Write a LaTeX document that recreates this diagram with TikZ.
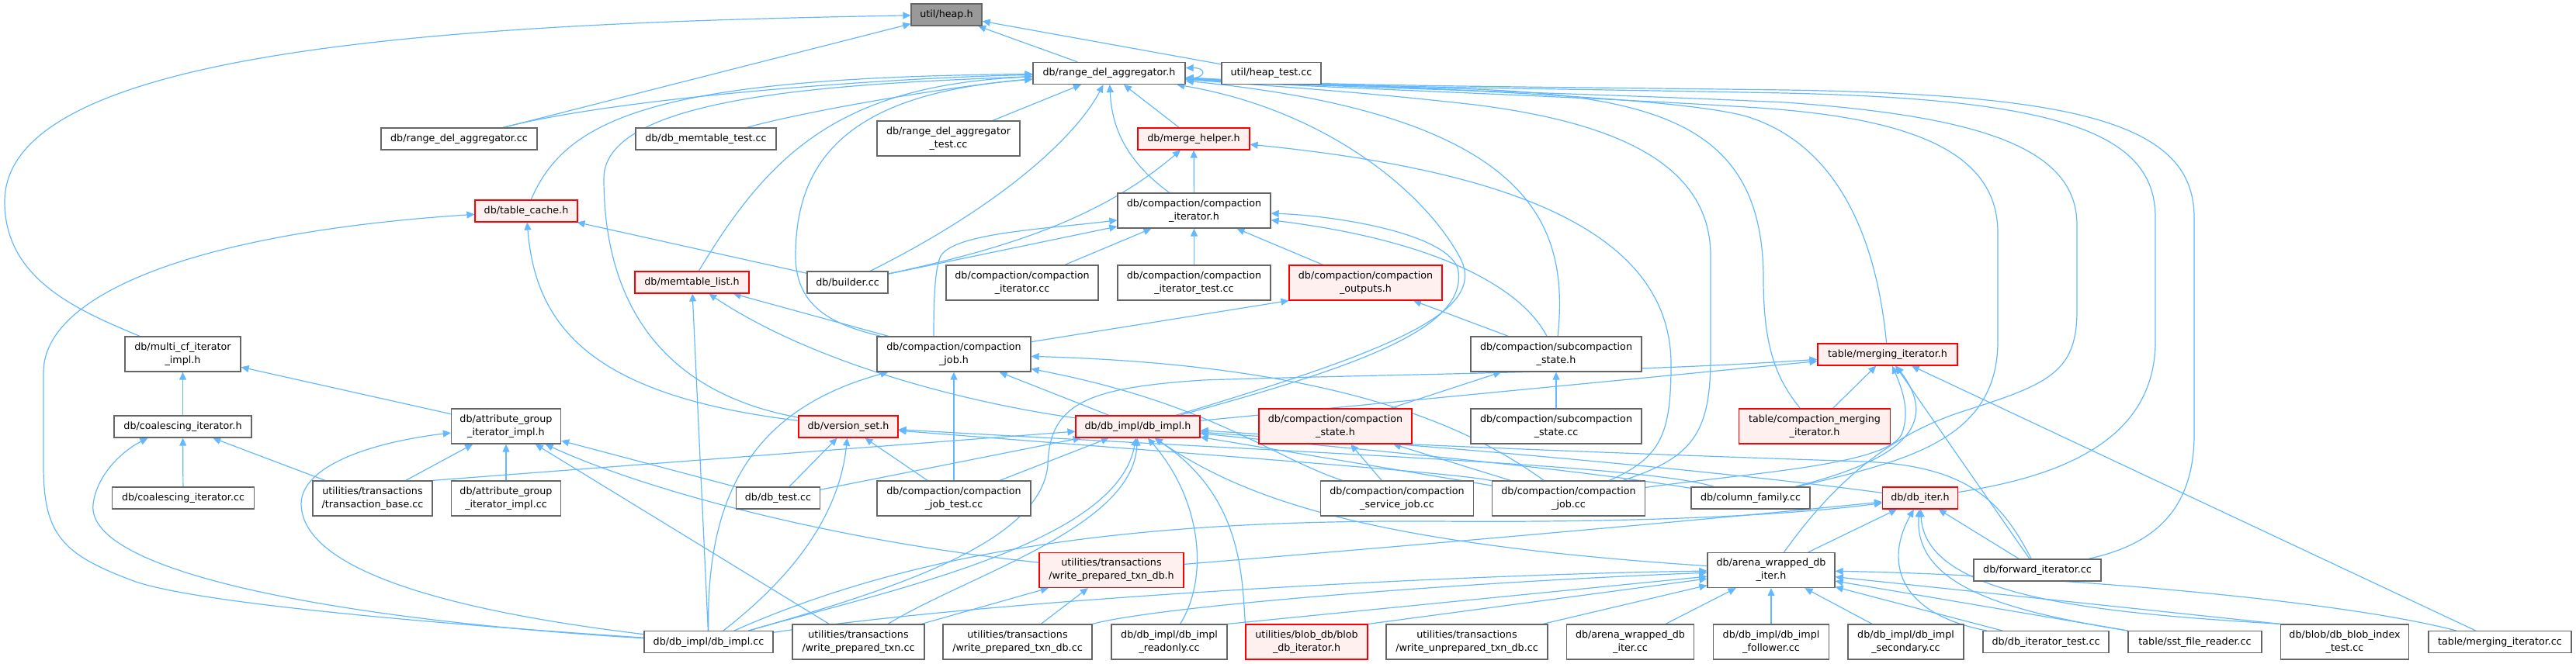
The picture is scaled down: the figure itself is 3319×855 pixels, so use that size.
\documentclass[tikz,border=0pt]{standalone}
\usepackage{fontspec}
\setmainfont{DejaVu Sans}
\usepackage{xcolor}
\usetikzlibrary{arrows.meta}

\definecolor{edgeblue}{HTML}{63B8FF}
\definecolor{boxgray}{HTML}{666666}
\definecolor{rootgray}{HTML}{999999}
\definecolor{hdrred}{HTML}{FF0000}
\definecolor{hdrfill}{HTML}{FFF0F0}

\pgfdeclarelayer{edges}
\pgfsetlayers{edges,main}

\begin{document}
\begin{tikzpicture}[
    x=1pt,
    y=-1pt,
    >={Triangle[length=10pt,width=9pt]},
    file/.style={draw=boxgray, fill=white, line width=1.3pt, inner sep=0pt,
        minimum height=28pt, align=center,
        font=\fontsize{12.7pt}{16.7pt}\selectfont},
    two/.style={minimum height=45pt},
    hdr/.style={file, draw=hdrred, fill=hdrfill, line width=1.1pt},
    incl/.style={->, draw=edgeblue, line width=1.2pt}
]

\useasboundingbox (0,0) rectangle (3319,855);

% ---------------------------------------------------------
% Files, row by row
% ---------------------------------------------------------

\node[file, fill=rootgray, minimum width=91pt] (heap) at (1219.5,19) {util/heap.h};

\node[file, minimum width=196pt] (rdah) at (1429,94.5) {db/range\_del\_aggregator.h};
\node[file, minimum width=128pt] (heaptest) at (1638,94.5) {util/heap\_test.cc};

\node[file, minimum width=201pt] (rdacc) at (591.5,179) {db/range\_del\_aggregator.cc};
\node[file, minimum width=181pt] (memtest) at (909.5,179) {db/db\_memtable\_test.cc};
\node[file, two, minimum width=184pt] (rdatest) at (1222,178.5) {db/range\_del\_aggregator\\\_test.cc};
\node[hdr, minimum width=144pt] (merge) at (1538,179) {db/merge\_helper.h};

\node[hdr, minimum width=132pt] (tcache) at (678,272) {db/table\_cache.h};
\node[file, two, minimum width=197pt] (cith) at (1538.5,271.5) {db/compaction/compaction\\\_iterator.h};

\node[hdr, minimum width=147pt] (memlist) at (891.5,364) {db/memtable\_list.h};
\node[file, minimum width=104pt] (builder) at (1092,364) {db/builder.cc};
\node[file, two, minimum width=196pt] (citcc) at (1317,364.5) {db/compaction/compaction\\\_iterator.cc};
\node[file, two, minimum width=197pt] (cittest) at (1538.5,364.5) {db/compaction/compaction\\\_iterator\_test.cc};
\node[hdr, two, minimum width=197pt] (outh) at (1759.5,364.5) {db/compaction/compaction\\\_outputs.h};

\node[file, two, minimum width=149pt] (multicf) at (235.5,456.5) {db/multi\_cf\_iterator\\\_impl.h};
\node[file, two, minimum width=198pt] (jobh) at (1229,456.5) {db/compaction/compaction\\\_job.h};
\node[file, two, minimum width=220pt] (subh) at (2005,456.5) {db/compaction/subcompaction\\\_state.h};
\node[hdr, minimum width=180pt] (mergeith) at (2432,457) {table/merging\_iterator.h};

\node[file, minimum width=177pt] (coalh) at (235.5,550) {db/coalescing\_iterator.h};
\node[file, two, minimum width=141pt] (attrh) at (652,549.5) {db/attribute\_group\\\_iterator\_impl.h};
\node[hdr, minimum width=128pt] (vset) at (1093,550) {db/version\_set.h};
\node[hdr, minimum width=160pt] (dbimplh) at (1466,550) {db/db\_impl/db\_impl.h};
\node[hdr, two, minimum width=197pt] (stateh) at (1720.5,549.5) {db/compaction/compaction\\\_state.h};
\node[file, two, minimum width=220pt] (subcc) at (2005,549.5) {db/compaction/subcompaction\\\_state.cc};
\node[hdr, two, minimum width=195pt] (cmergeh) at (2338,549.5) {table/compaction\_merging\\\_iterator.h};

\node[file, minimum width=183pt] (coalcc) at (236,642) {db/coalescing\_iterator.cc};
\node[file, two, minimum width=154pt] (tbase) at (480,642.5) {utilities/transactions\\/transaction\_base.cc};
\node[file, two, minimum width=141pt] (attrcc) at (652,642.5) {db/attribute\_group\\\_iterator\_impl.cc};
\node[file, minimum width=108pt] (dbtest) at (1002.5,642) {db/db\_test.cc};
\node[file, two, minimum width=198pt] (jobtest) at (1229,642.5) {db/compaction/compaction\\\_job\_test.cc};
\node[file, two, minimum width=197pt] (svcjob) at (1800,642.5) {db/compaction/compaction\\\_service\_job.cc};
\node[file, two, minimum width=197pt] (jobcc) at (2021,642.5) {db/compaction/compaction\\\_job.cc};
\node[file, minimum width=153pt] (cfcc) at (2255.5,642) {db/column\_family.cc};
\node[hdr, minimum width=97pt] (iterh) at (2474,642) {db/db\_iter.h};

\node[hdr, two, minimum width=186pt] (wpdbh) at (1432,735) {utilities/transactions\\/write\_prepared\_txn\_db.h};
\node[file, two, minimum width=164pt] (awih) at (2282,735) {db/arena\_wrapped\_db\\\_iter.h};
\node[file, minimum width=164pt] (fwdcc) at (2625,735) {db/forward\_iterator.cc};

\node[file, minimum width=166pt] (dbimplcc) at (913,827.7) {db/db\_impl/db\_impl.cc};
\node[file, two, minimum width=170pt] (wptcc) at (1106,827.5) {utilities/transactions\\/write\_prepared\_txn.cc};
\node[file, two, minimum width=192pt] (wpdbcc) at (1311,827.5) {utilities/transactions\\/write\_prepared\_txn\_db.cc};
\node[file, two, minimum width=149pt] (rocc) at (1506.5,827.5) {db/db\_impl/db\_impl\\\_readonly.cc};
\node[hdr, two, minimum width=157pt] (blobh) at (1683.5,827.5) {utilities/blob\_db/blob\\\_db\_iterator.h};
\node[file, two, minimum width=208pt] (wudbcc) at (1890,827.5) {utilities/transactions\\/write\_unprepared\_txn\_db.cc};
\node[file, two, minimum width=164pt] (awicc) at (2100.5,827.5) {db/arena\_wrapped\_db\\\_iter.cc};
\node[file, two, minimum width=149pt] (follcc) at (2282,827.5) {db/db\_impl/db\_impl\\\_follower.cc};
\node[file, two, minimum width=149pt] (seccc) at (2455.5,827.5) {db/db\_impl/db\_impl\\\_secondary.cc};
\node[file, minimum width=162pt] (itertest) at (2636,827.7) {db/db\_iterator\_test.cc};
\node[file, minimum width=172pt] (sstcc) at (2828,827.7) {table/sst\_file\_reader.cc};
\node[file, two, minimum width=165pt] (blobtest) at (3021,827.5) {db/blob/db\_blob\_index\\\_test.cc};
\node[file, minimum width=184pt] (mergeitcc) at (3221,827.7) {table/merging\_iterator.cc};

\begin{pgfonlayer}{edges}

% ---------------------------------------------------------
% util/heap.h
% ---------------------------------------------------------

\draw[incl] (multicf) .. controls (100,400) and (6,360) .. (6,260)
    .. controls (6,60) and (600,30) .. (heap);
\draw[incl] (rdacc) -- (heap);
\draw[incl] (rdah) -- (heap);
\draw[incl] (heaptest) -- (heap);

% ---------------------------------------------------------
% db/range_del_aggregator.h
% ---------------------------------------------------------

\draw[incl] ([yshift=-7pt]rdah.east) .. controls +(28pt,0pt) and +(28pt,0pt) .. ([yshift=7pt]rdah.east);
\draw[incl] (rdacc) .. controls (800,125) and (1150,100) .. (rdah);
\draw[incl] (memtest) .. controls (1050,140) and (1250,108) .. (rdah);
\draw[incl] (rdatest) -- (rdah);
\draw[incl] (merge) -- (rdah);
\draw[incl] (tcache) .. controls (730,150) and (850,100) .. (rdah);
\draw[incl] (memlist) .. controls (990,200) and (1080,110) .. (rdah);
\draw[incl] (builder) .. controls (1300,260) and (1390,170) .. (rdah);
\draw[incl] (cith) .. controls (1440,200) and (1432,150) .. (rdah);
\draw[incl] (jobh) .. controls (1080,420) and (1025,400) .. (1025,330)
    .. controls (1025,200) and (1100,120) .. (rdah);
\draw[incl] (vset) .. controls (820,500) and (778,350) .. (778,230)
    .. controls (778,120) and (1100,108) .. (rdah);
\draw[incl] (dbimplh) .. controls (1800,450) and (1920,400) .. (1880,330)
    .. controls (1830,240) and (1700,140) .. (rdah);
\draw[incl] (subh) .. controls (2020,300) and (1990,150) .. (rdah);
\draw[incl] (jobcc) .. controls (2180,590) and (2204,560) .. (2204,460) -- (2204,330)
    .. controls (2204,220) and (2100,160) .. (1900,135)
    .. controls (1750,118) and (1650,112) .. (rdah);
\draw[incl] (cmergeh) .. controls (2290,490) and (2272,450) .. (2272,360)
    .. controls (2272,170) and (2150,125) .. (1900,115)
    .. controls (1750,110) and (1650,110) .. (rdah);
\draw[incl] (mergeith) .. controls (2420,330) and (2380,190) .. (2250,150)
    .. controls (2150,122) and (1750,112) .. (rdah);
\draw[incl] (cfcc) .. controls (2450,595) and (2574,570) .. (2574,440) -- (2574,300)
    .. controls (2574,190) and (2450,150) .. (2250,138)
    .. controls (2000,122) and (1700,114) .. (rdah);
\draw[incl] (awih) .. controls (2350,640) and (2420,565) .. (2530,530)
    .. controls (2640,495) and (2676,480) .. (2676,400) -- (2676,290)
    .. controls (2676,190) and (2550,150) .. (2300,132)
    .. controls (2000,118) and (1700,113) .. (rdah);
\draw[incl] (iterh) .. controls (2650,615) and (2777,570) .. (2777,440) -- (2777,280)
    .. controls (2777,170) and (2650,128) .. (2300,120)
    .. controls (2000,114) and (1700,112) .. (rdah);
\draw[incl] (fwdcc) .. controls (2760,705) and (2827,670) .. (2827,560) -- (2827,280)
    .. controls (2827,160) and (2680,122) .. (2300,116)
    .. controls (2000,112) and (1700,111) .. (rdah);

% ---------------------------------------------------------
% Compaction iterator, merge helper, table cache
% ---------------------------------------------------------

\draw[incl] (dbimplh) .. controls (1760,470) and (1895,420) .. (1878,345)
    .. controls (1860,300) and (1720,278) .. (cith);
\draw[incl] (subh) .. controls (1960,370) and (1850,310) .. (cith);
\draw[incl] ([xshift=-26pt]jobh.north) .. controls (1203,380) and (1205,345) .. (1212,330)
    .. controls (1230,300) and (1350,295) .. (cith);
\draw[incl] (builder) -- (cith);
\draw[incl] (citcc) -- (cith);
\draw[incl] (cittest) -- (cith);
\draw[incl] (outh) -- (cith);

\draw[incl] (cith) -- (merge);
\draw[incl] (builder) .. controls (1300,320) and (1420,280) .. (merge);
\draw[incl] (jobcc) .. controls (2140,590) and (2153,560) .. (2153,470)
    .. controls (2153,300) and (1950,220) .. (merge);

\draw[incl] (builder) -- (tcache);
\draw[incl] (vset) .. controls (760,510) and (690,420) .. (tcache);
\draw[incl] (dbimplcc) .. controls (500,800) and (250,775) .. (175,750)
    .. controls (80,715) and (56,690) .. (56,600) -- (56,480)
    .. controls (56,380) and (250,300) .. (tcache);

% ---------------------------------------------------------
% Middle rows
% ---------------------------------------------------------

\draw[incl] (dbimplcc) -- (memlist);
\draw[incl] (dbimplh) .. controls (1250,520) and (1050,470) .. (memlist);
\draw[incl] (jobh) -- (memlist);

\draw[incl] (jobh) -- (outh.south west);
\draw[incl] (subh) -- (outh);

\draw[incl] (coalh) -- (multicf);
\draw[incl] (attrh) -- (multicf);

\draw[incl] (dbimplcc) .. controls (910,650) and (960,530) .. (jobh);
\draw[incl] (jobtest) -- (jobh);
\draw[incl] (dbimplh) -- (jobh);
\draw[incl] (svcjob) .. controls (1640,590) and (1560,520) .. (jobh);
\draw[incl] (jobcc) .. controls (1880,540) and (1700,470) .. (jobh);

\draw[incl] (stateh) -- (subh);
\draw[incl] (subcc) -- (subh);

\draw[incl] (dbimplh) -- (mergeith);
\draw[incl] (dbimplcc) .. controls (1150,760) and (1340,700) .. (1350,600)
    .. controls (1352,520) and (1400,500) .. (1550,490)
    .. controls (1800,482) and (2100,480) .. (mergeith);
\draw[incl] (cmergeh) -- (mergeith);
\draw[incl] (jobcc) .. controls (2250,610) and (2430,600) .. (2450,560)
    .. controls (2462,530) and (2450,500) .. (mergeith);
\draw[incl] (cfcc) .. controls (2420,600) and (2510,560) .. (mergeith);
\draw[incl] (fwdcc) -- (mergeith);
\draw[incl] (mergeitcc) -- (mergeith);

\draw[incl] (dbimplcc) .. controls (450,800) and (110,740) .. (120,650)
    .. controls (125,610) and (160,580) .. ([xshift=-45pt]coalh.south);
\draw[incl] (coalcc) -- (coalh);
\draw[incl] (tbase) -- (coalh);

\draw[incl] (dbimplcc) .. controls (600,790) and (390,740) .. (388,650)
    .. controls (388,600) and (480,570) .. (attrh);
\draw[incl] (tbase) -- (attrh);
\draw[incl] (attrcc) -- (attrh);
\draw[incl] (wptcc) -- (attrh);
\draw[incl] (wpdbh) .. controls (1100,700) and (850,640) .. (attrh);
\draw[incl] (dbtest) -- (attrh);

\draw[incl] (dbtest) -- (vset);
\draw[incl] (jobtest) -- (vset);
\draw[incl] (dbimplcc) .. controls (1000,760) and (1080,680) .. (vset);
\draw[incl] (jobcc) .. controls (1880,610) and (1600,590) .. (vset);
\draw[incl] (cfcc) .. controls (2120,600) and (1700,585) .. (vset);

% ---------------------------------------------------------
% db/db_impl/db_impl.h
% ---------------------------------------------------------

\draw[incl] (tbase.north east) -- (dbimplh);
\draw[incl] (dbtest) -- (dbimplh);
\draw[incl] (jobtest) -- (dbimplh);
\draw[incl] (dbimplcc) .. controls (1150,760) and (1440,700) .. (dbimplh);
\draw[incl] (wptcc) .. controls (1250,740) and (1460,680) .. (dbimplh);
\draw[incl] (rocc) .. controls (1560,740) and (1545,640) .. (dbimplh);
\draw[incl] (blobh.north west) .. controls (1600,740) and (1600,640) .. (dbimplh);
\draw[incl] (awih) .. controls (1750,700) and (1600,640) .. (dbimplh);
\draw[incl] (jobcc) -- (dbimplh);
\draw[incl] (cfcc) .. controls (2000,600) and (1700,575) .. (dbimplh);
\draw[incl] (iterh) .. controls (2200,605) and (1800,570) .. (dbimplh);
\draw[incl] (fwdcc) .. controls (2580,650) and (2540,600) .. (2400,595)
    .. controls (2100,585) and (1700,570) .. (dbimplh);

\draw[incl] (svcjob) -- (stateh);
\draw[incl] (jobcc) -- (stateh);

\draw[incl] (wptcc) -- (wpdbh);
\draw[incl] (wpdbcc) -- (wpdbh);

% ---------------------------------------------------------
% db/db_iter.h and db/arena_wrapped_db_iter.h
% ---------------------------------------------------------

\draw[incl] (wpdbh) .. controls (1800,705) and (2200,670) .. (iterh);
\draw[incl] (dbimplcc) .. controls (1200,700) and (1500,670) .. (1850,672)
    .. controls (2100,674) and (2300,665) .. (iterh);
\draw[incl] (awih) -- (iterh);
\draw[incl] (itertest) .. controls (2440,790) and (2430,720) .. (iterh);
\draw[incl] (sstcc.north west) .. controls (2600,790) and (2465,760) .. (iterh);
\draw[incl] (blobtest.north west) .. controls (2700,790) and (2480,770) .. (iterh);
\draw[incl] (fwdcc) -- (iterh);

\draw[incl] (dbimplcc) .. controls (1300,770) and (1900,740) .. (awih);
\draw[incl] (wpdbcc.north east) .. controls (1500,780) and (1900,750) .. (awih);
\draw[incl] (rocc.north east) -- (awih);
\draw[incl] (blobh.north east) -- (awih);
\draw[incl] (wudbcc) -- (awih);
\draw[incl] (awicc) -- (awih);
\draw[incl] (follcc) -- (awih);
\draw[incl] (seccc) -- (awih);
\draw[incl] (itertest) -- (awih);
\draw[incl] (sstcc) -- (awih);
\draw[incl] (blobtest.north west) -- (awih);
\draw[incl] (mergeitcc) .. controls (3000,770) and (2600,740) .. (awih);

\end{pgfonlayer}

\end{tikzpicture}
\end{document}
